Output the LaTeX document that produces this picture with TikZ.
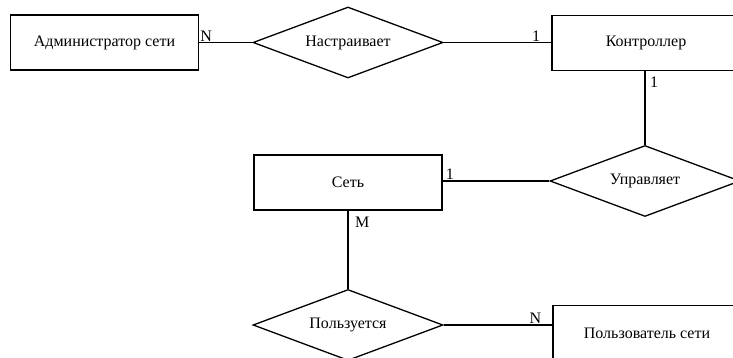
\documentclass[tikz,border=0pt]{standalone}
\usepackage{fontspec}
\setmainfont{Liberation Serif}
\usetikzlibrary{shapes.geometric}
\begin{document}
\begin{tikzpicture}[x=1pt, y=-1pt, line join=miter, font=\fontsize{16}{18}\selectfont,
	entity/.style={draw, line width=1.3pt, minimum width=188pt, minimum height=55pt, inner sep=0pt},
	relation/.style={draw, line width=1.3pt, diamond, aspect=2.68, minimum width=190pt, minimum height=71pt, inner sep=0pt},
	link/.style={line width=1.3pt},
	card/.style={inner sep=1pt}]
	\useasboundingbox (0,0) rectangle (733,358);
	\clip (0,0) rectangle (733,358);
	% entities
	\node[entity] (admin) at (104.5,42.5) {Администратор сети};
	\node[entity] (ctrl) at (646,43) {Контроллер};
	\node[entity] (net) at (348,182.5) {Сеть};
	\node[entity] (user) at (647,333) {Пользователь сети};
	% relations
	\node[relation] (tune) at (348,42.5) {Настраивает};
	\node[relation] (manage) at (645,181) {Управляет};
	\node[relation] (use) at (348,325) {Пользуется};
	% links
	\draw[link] (admin.east) -- (tune.west);
	\draw[link] (tune.east) -- (ctrl.west |- tune.east);
	\draw[link] (ctrl.south -| manage.north) -- (manage.north);
	\draw[link] (net.east |- manage.west) -- (manage.west);
	\draw[link] (net.south) -- (use.north);
	\draw[link] (use.east) -- (use.east -| user.west);
	% cardinalities
	\node[card, anchor=south west] (c1) at (admin.east) {N};
	\node[card, anchor=south east] (c2) at ([xshift=-10pt]ctrl.west |- tune.east) {1};
	\node[card, anchor=north west] (c3) at ([xshift=4pt, yshift=-5pt]ctrl.south -| manage.north) {1};
	\node[card, anchor=south west] (c4) at ([xshift=2pt]net.east |- manage.west) {1};
	\node[card, anchor=north west] (c5) at ([xshift=6pt, yshift=-5pt]net.south) {M};
	\node[card, anchor=south east] (c6) at ([xshift=-10pt]use.east -| user.west) {N};
\end{tikzpicture}
\end{document}
